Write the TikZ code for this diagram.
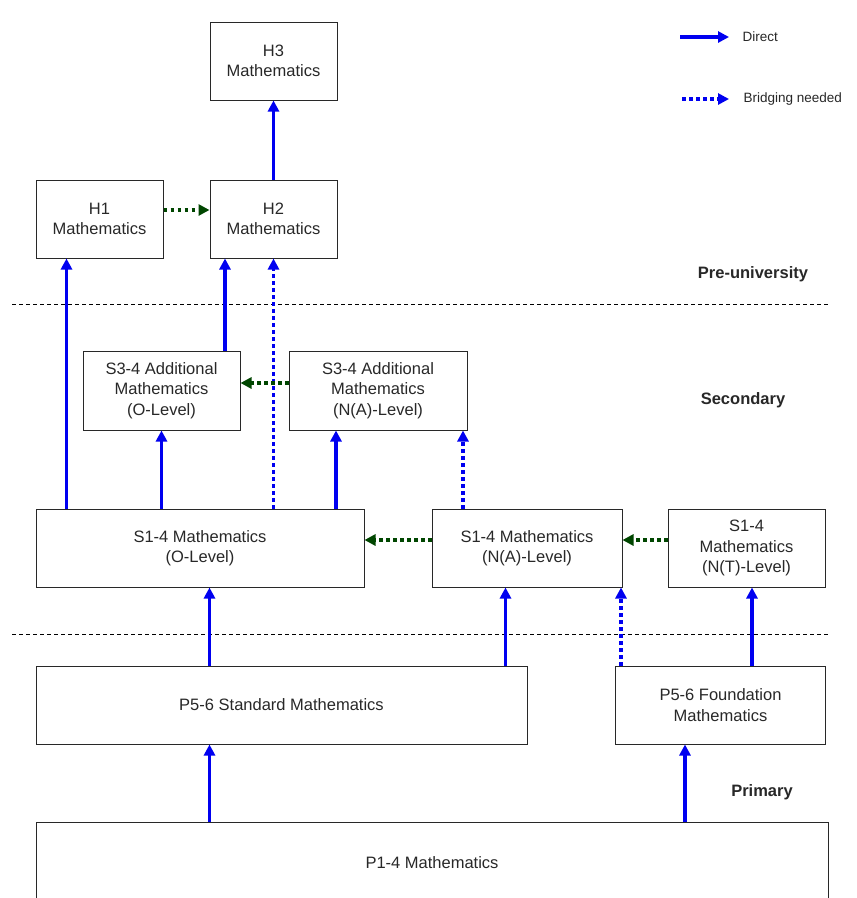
\documentclass[tikz,border=0pt]{standalone}
\usepackage{fontspec}
\setmainfont{Liberation Sans}
\usetikzlibrary{arrows.meta,calc}
\definecolor{arblue}{RGB}{0,0,240}
\definecolor{argreen}{RGB}{0,70,0}
\definecolor{boxline}{RGB}{40,40,40}
\definecolor{txt}{RGB}{40,40,40}
\begin{document}
\begin{tikzpicture}[x=1pt,y=-1pt,
  mbox/.style={draw=boxline, line width=1pt, align=center, inner sep=0pt, text=txt,
    font=\fontsize{16.5}{20.5}\selectfont},
  lvl/.style={font=\fontsize{16.5}{20}\selectfont\bfseries, text=txt},
  leg/.style={font=\fontsize{13.5}{16}\selectfont, text=txt, anchor=west},
  direct/.style={draw=arblue, line width=3.5pt, -{Triangle[length=11pt,width=11pt]}},
  bridge/.style={draw=arblue, line width=3.5pt, dash pattern=on 3.5pt off 3.5pt, -{Triangle[length=11pt,width=11pt]}},
  gbridge/.style={draw=argreen, line width=3.5pt, dash pattern=on 3.5pt off 3.5pt, -{Triangle[length=11pt,width=11pt]}},
  sep/.style={draw=black, line width=0.8pt, dash pattern=on 4pt off 3pt}
]
\useasboundingbox[fill=white] (0,0) rectangle (857,898);

% boxes
\node[mbox, minimum width=127pt, minimum height=78pt] (H3) at (273.5,61) {H3\\Mathematics};
\node[mbox, minimum width=127pt, minimum height=78pt] (H1) at (99.5,219) {H1\\Mathematics};
\node[mbox, minimum width=127pt, minimum height=78pt] (H2) at (273.5,219) {H2\\Mathematics};
\node[mbox, minimum width=157pt, minimum height=79pt] (AO) at (161.5,390.5) {S3-4 Additional\\Mathematics\\(O-Level)};
\node[mbox, minimum width=178pt, minimum height=79pt] (AN) at (378,390.5) {S3-4 Additional\\Mathematics\\(N(A)-Level)};
\node[mbox, minimum width=328pt, minimum height=78pt] (SO) at (200,548) {S1-4 Mathematics\\(O-Level)};
\node[mbox, minimum width=190pt, minimum height=78pt] (SN) at (527,548) {S1-4 Mathematics\\(N(A)-Level)};
\node[mbox, minimum width=157pt, minimum height=78pt] (ST) at (746.5,548) {S1-4\\Mathematics\\(N(T)-Level)};
\node[mbox, minimum width=491pt, minimum height=78pt] (PS) at (281.5,705) {P5-6 Standard Mathematics};
\node[mbox, minimum width=210pt, minimum height=78pt] (PF) at (720.5,705) {P5-6 Foundation\\Mathematics};
\node[mbox, minimum width=792pt, minimum height=82pt] (P1) at (432,863) {P1-4 Mathematics};

% level separators and labels
\coordinate (s1a) at (12,304); \coordinate (s1b) at (830,304);
\coordinate (s2a) at (12,634); \coordinate (s2b) at (830,634);
\draw[sep] (s1a) -- (s1b);
\draw[sep] (s2a) -- (s2b);
\node[lvl] (Lpre) at (753,274) {Pre-university};
\node[lvl] (Lsec) at (743,400) {Secondary};
\node[lvl] (Lpri) at (762,792) {Primary};

% legend
\coordinate (d1) at (680,37); \coordinate (d2) at (729,37);
\coordinate (b1) at (682,99); \coordinate (b2) at (729,99);
\draw[direct] (d1) -- (d2);
\draw[bridge] (b1) -- (b2);
\node[leg] (Ld) at (739,37) {Direct};
\node[leg] (Lb) at (740,99) {Bridging needed};

% connectors
\draw[direct] (H2) -- (H3);
\draw[gbridge] ($(H1.east)+(0,-9)$) -- ($(H2.west)+(0,-9)$);
\draw[direct] ([xshift=31pt]SO.north west) -- ([xshift=31pt]SO.north west |- H1.south);
\draw[direct] ([xshift=-48.5pt]H2.south |- AO.north) -- ([xshift=-48.5pt]H2.south);
\draw[bridge] (SO.north -| H2.south) -- (H2.south);
\draw[gbridge] ($(AN.west)+(0,-7.5)$) -- ($(AO.east)+(0,-7.5)$);
\draw[direct] (SO.north -| AO.south) -- (AO.south);
\draw[direct] ([xshift=-42pt]AN.south |- SO.north) -- ([xshift=-42pt]AN.south);
\draw[bridge] ([xshift=-64pt]SN.north) -- ([xshift=-64pt]SN.north |- AN.south);
\draw[gbridge] ($(SN.west)+(0,-8)$) -- ($(SO.east)+(0,-8)$);
\draw[gbridge] ($(ST.west)+(0,-8)$) -- ($(SN.east)+(0,-8)$);
\draw[direct] ([xshift=174pt]PS.north west) -- ([xshift=174pt]PS.north west |- SO.south);
\draw[direct] ([xshift=-22pt]PS.north east) -- ([xshift=-22pt]PS.north east |- SN.south);
\draw[bridge] ([xshift=6pt]PF.north west) -- ([xshift=6pt]PF.north west |- SN.south);
\draw[direct] ([xshift=5.5pt]ST.south |- PF.north) -- ([xshift=5.5pt]ST.south);
\draw[direct] ([xshift=174pt]P1.north west) -- ([xshift=174pt]P1.north west |- PS.south);
\draw[direct] ([xshift=-35.5pt]PF.south |- P1.north) -- ([xshift=-35.5pt]PF.south);
\end{tikzpicture}
\end{document}
